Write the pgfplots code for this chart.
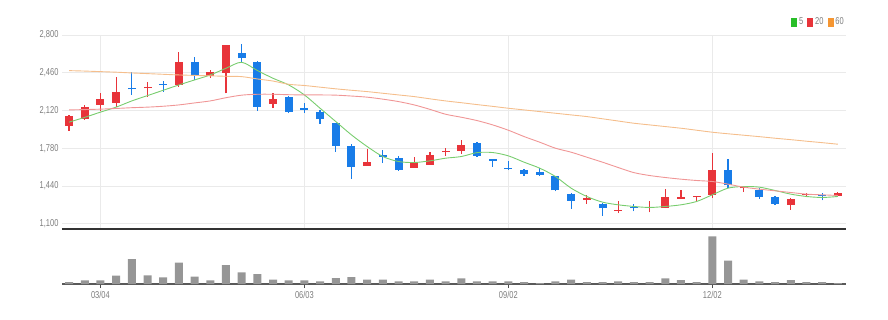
\documentclass[border=0pt]{standalone}
\usepackage{pgfplots}
\pgfplotsset{compat=1.18}
\usepackage{pgfplotstable}
\usepackage{fontspec}
\setmainfont{Liberation Sans}[FakeStretch=0.75]
\definecolor{upred}{RGB}{232,52,58}
\definecolor{dnblue}{RGB}{24,124,232}
\definecolor{maG}{RGB}{120,205,110}
\definecolor{maR}{RGB}{240,150,150}
\definecolor{maO}{RGB}{245,190,140}
\definecolor{lblgray}{RGB}{125,125,125}
\definecolor{gridgray}{RGB}{234,234,234}
\definecolor{volgray}{RGB}{150,150,150}
\definecolor{legG}{RGB}{40,190,40}
\definecolor{legO}{RGB}{245,150,50}

\pgfplotstableread{
i o h l c
0 1981 2080 1936 2071
1 2041 2170 2035 2155
2 2170 2275 2116 2221
3 2191 2425 2155 2287
5 2318 2374 2245 2332
7 2350 2650 2335 2554
9 2431 2485 2416 2470
10 2461 2710 2275 2710
13 2179 2275 2140 2224
19 1624 1774 1620 1660
22 1606 1699 1606 1654
23 1630 1744 1630 1720
24 1745 1780 1711 1758
25 1759 1855 1729 1810
33 1316 1360 1279 1330
35 1212 1300 1195 1226
37 1242 1300 1201 1254
38 1240 1414 1240 1336
39 1326 1399 1321 1338
40 1338 1351 1294 1348
41 1354 1741 1330 1585
43 1418 1435 1384 1428
46 1270 1330 1225 1324
47 1355 1375 1336 1365
49 1345 1381 1345 1375
}\up

\pgfplotstableread{
i o h l c
4 2325 2464 2260 2311
6 2360 2386 2290 2348
8 2554 2599 2395 2431
11 2638 2719 2554 2590
12 2554 2566 2116 2155
14 2245 2251 2095 2104
15 2138 2185 2095 2125
16 2110 2125 1999 2041
17 2005 2005 1750 1804
18 1804 1816 1504 1615
20 1716 1765 1645 1703
21 1696 1711 1576 1582
26 1825 1834 1702 1711
27 1680 1684 1615 1667
28 1600 1666 1582 1592
29 1582 1594 1534 1546
30 1570 1606 1534 1540
31 1534 1534 1390 1399
32 1366 1375 1234 1306
34 1279 1288 1171 1240
36 1252 1276 1210 1241
42 1585 1684 1420 1444
44 1405 1420 1324 1339
45 1336 1345 1270 1276
48 1362 1375 1309 1350
}\down

\pgfplotstableread{
i v m5 m20 m60
0 6 2015 2125 2479
1 11 2058 2128 2475
2 11 2105 2132 2470
3 25 2150 2138 2465
4 75 2206 2145 2458
5 26 2254 2150 2452
6 20 2302 2158 2446
7 64 2350 2170 2440
8 22 2395 2188 2436
9 11 2440 2206 2432
10 57 2500 2235 2428
11 35 2554 2258 2425
12 30 2480 2266 2404
13 13 2410 2266 2385
14 11 2350 2262 2356
15 11 2260 2260 2345
16 8 2140 2260 2330
17 18 2020 2258 2315
18 21 1900 2250 2302
19 13 1795 2240 2290
20 13 1705 2222 2275
21 8 1660 2200 2260
22 8 1651 2170 2245
23 13 1666 2130 2225
24 8 1690 2086 2206
25 17 1705 2059 2190
26 8 1740 2029 2173
27 8 1741 1990 2157
28 8 1711 1942 2140
29 6 1654 1885 2125
30 3 1600 1834 2110
31 8 1525 1780 2095
32 13 1420 1744 2080
33 6 1345 1699 2065
34 6 1294 1654 2045
35 8 1270 1606 2025
36 6 1255 1560 2005
37 6 1246 1534 1990
38 17 1255 1516 1975
39 12 1270 1501 1960
40 6 1300 1489 1942
41 143 1360 1480 1924
42 70 1420 1456 1910
43 13 1435 1429 1897
44 8 1429 1411 1884
45 6 1399 1396 1870
46 12 1366 1381 1857
47 6 1345 1366 1843
48 6 1336 1360 1830
49 3 1345 1354 1816
}\ma

\begin{document}
\begin{tikzpicture}
\path[use as bounding box] (0,0) rectangle (888pt,319pt);
\begin{axis}[
  at={(62pt,90pt)}, anchor=south west, scale only axis,
  width=784pt, height=194pt,
  xmin=-0.45, xmax=49.52, ymin=1052, ymax=2800,
  ytick={1100,1440,1780,2120,2460,2800},
  xtick={2,15,28,41}, xticklabels={},
  grid=major, major grid style={gridgray, line width=0.7pt},
  separate axis lines,
  axis x line*=bottom, axis y line*=left,
  x axis line style={-, draw=black!80, line width=1.6pt},
  y axis line style={draw=none},
  tick style={draw=none},
  yticklabel style={font=\fontsize{10}{10}\selectfont, text=lblgray},
  /pgf/number format/assume math mode=true,
  /pgf/number format/1000 sep={,},
  scaled y ticks=false,
  legend style={at={(1,1.067)}, anchor=east, draw=none, fill=none,
    font=\fontsize{10}{10}\selectfont, text=lblgray, inner sep=0pt,
    /tikz/every even column/.append style={column sep=2pt}},
  legend columns=3,
]
% wicks and bodies
\addplot[forget plot, draw=none, mark=none, error bars/.cd, y dir=plus, y explicit, error mark=none,
  error bar style={draw=upred, solid, line width=1.2pt}]
  table[x=i, y=l, y error expr=\thisrow{h}-\thisrow{l}] {\up};
\addplot[forget plot, draw=none, mark=none, error bars/.cd, y dir=plus, y explicit, error mark=none,
  error bar style={draw=upred, solid, line width=8pt}]
  table[x=i, y=o, y error expr=\thisrow{c}-\thisrow{o}] {\up};
\addplot[forget plot, draw=none, mark=none, error bars/.cd, y dir=plus, y explicit, error mark=none,
  error bar style={draw=dnblue, solid, line width=1.2pt}]
  table[x=i, y=l, y error expr=\thisrow{h}-\thisrow{l}] {\down};
\addplot[forget plot, draw=none, mark=none, error bars/.cd, y dir=plus, y explicit, error mark=none,
  error bar style={draw=dnblue, solid, line width=8pt}]
  table[x=i, y=c, y error expr=\thisrow{o}-\thisrow{c}] {\down};
% moving averages
\addplot[maG, line width=0.9pt, mark=none, smooth,
  legend image code/.code={\fill[legG] (0pt,-4pt) rectangle (5pt,4pt);}]
  table[x=i, y=m5] {\ma};
\addlegendentry{5}
\addplot[maR, line width=0.9pt, mark=none, smooth,
  legend image code/.code={\fill[upred] (0pt,-4pt) rectangle (5pt,4pt);}]
  table[x=i, y=m20] {\ma};
\addlegendentry{20}
\addplot[maO, line width=0.9pt, mark=none, smooth,
  legend image code/.code={\fill[legO] (0pt,-4pt) rectangle (5pt,4pt);}]
  table[x=i, y=m60] {\ma};
\addlegendentry{60}
\end{axis}

\begin{axis}[
  at={(62pt,35pt)}, anchor=south west, scale only axis,
  width=784pt, height=52pt,
  xmin=-0.45, xmax=49.52, ymin=0, ymax=156,
  ybar, bar width=8pt,
  axis x line*=bottom, axis y line=none,
  x axis line style={-, draw=black!65, line width=1.6pt},
  xtick={2,15,28,41}, xticklabels={03/04,06/03,09/02,12/02},
  xtick style={draw=black!70, line width=0.8pt},
  major tick length=4pt, tick align=outside,
  xticklabel style={font=\fontsize{10}{10}\selectfont, text=lblgray},
]
\addplot[fill=volgray, draw=none] table[x=i, y=v] {\ma};
\end{axis}
\end{tikzpicture}
\end{document}
